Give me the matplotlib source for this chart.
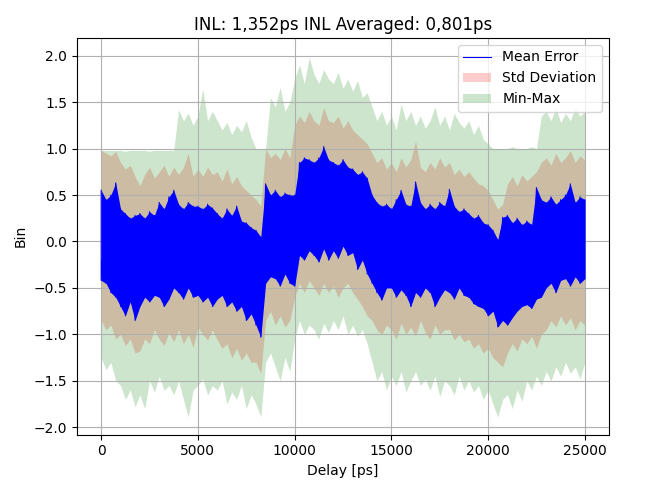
import matplotlib
matplotlib.use("Agg")
import matplotlib.pyplot as plt
import numpy as np

# mean error trace, its high and low peaks every 250 ps
mean_top = [
    0.55, 0.45, 0.50, 0.63, 0.35, 0.30, 0.25, 0.28, 0.30, 0.25, 0.32, 0.28,
    0.42, 0.35, 0.48, 0.55, 0.40, 0.35, 0.42, 0.38, 0.38, 0.35, 0.40, 0.36,
    0.30, 0.25, 0.35, 0.28, 0.38, 0.22, 0.20, 0.15, 0.12, 0.05, 0.62, 0.50,
    0.55, 0.48, 0.52, 0.50, 0.50, 0.85, 0.90, 0.88, 0.85, 0.90, 1.02, 0.88,
    0.85, 0.82, 0.88, 0.80, 0.78, 0.72, 0.75, 0.68, 0.50, 0.42, 0.38, 0.40,
    0.35, 0.45, 0.55, 0.40, 0.38, 0.64, 0.42, 0.35, 0.40, 0.35, 0.42, 0.38,
    0.56, 0.38, 0.32, 0.35, 0.30, 0.25, 0.28, 0.20, 0.18, 0.12, 0.02, 0.26,
    0.28, 0.20, 0.25, 0.18, 0.22, 0.18, 0.58, 0.45, 0.42, 0.48, 0.40, 0.45,
    0.50, 0.62, 0.42, 0.48, 0.45,
]
mean_bottom = [
    -0.42, -0.45, -0.55, -0.60, -0.70, -0.80, -0.65, -0.85, -0.70, -0.60, -0.65, -0.58,
    -0.60, -0.70, -0.62, -0.50, -0.55, -0.62, -0.50, -0.60, -0.58, -0.65, -0.60, -0.70,
    -0.62, -0.58, -0.70, -0.65, -0.75, -0.70, -0.85, -0.78, -0.90, -1.03, -0.45, -0.38,
    -0.40, -0.48, -0.35, -0.45, -0.48, -0.15, -0.20, -0.10, -0.15, -0.22, -0.08, -0.20,
    -0.10, -0.18, -0.05, -0.15, -0.12, -0.30, -0.20, -0.35, -0.45, -0.55, -0.63, -0.50,
    -0.50, -0.60, -0.52, -0.58, -0.70, -0.55, -0.60, -0.50, -0.55, -0.70, -0.60, -0.52,
    -0.55, -0.62, -0.50, -0.58, -0.60, -0.67, -0.70, -0.72, -0.80, -0.75, -0.92, -0.85,
    -0.90, -0.82, -0.75, -0.70, -0.68, -0.72, -0.62, -0.60, -0.50, -0.45, -0.55, -0.42,
    -0.40, -0.48, -0.38, -0.45, -0.40,
]

# std and min-max bands, every 250 ps
std_upper = [
    0.98, 0.95, 0.92, 0.97, 0.85, 0.78, 0.82, 0.70, 0.60, 0.72, 0.80, 0.68,
    0.75, 0.82, 0.70, 0.80, 0.72, 0.80, 0.95, 0.70, 0.78, 0.70, 0.80, 0.72,
    0.75, 0.65, 0.78, 0.62, 0.70, 0.60, 0.55, 0.50, 0.45, 0.38, 1.00, 0.90,
    0.95, 0.88, 1.00, 0.90, 1.25, 1.35, 1.28, 1.40, 1.30, 1.25, 1.44, 1.30,
    1.28, 1.35, 1.22, 1.30, 1.20, 1.15, 1.10, 1.05, 0.95, 0.85, 0.90, 0.78,
    0.85, 0.75, 0.90, 0.80, 0.88, 1.08, 0.80, 0.75, 0.85, 0.78, 0.90, 0.80,
    0.85, 0.72, 0.78, 0.70, 0.75, 0.68, 0.62, 0.60, 0.55, 0.45, 0.35, 0.40,
    0.62, 0.70, 0.60, 0.72, 0.65, 0.70, 0.75, 0.85, 0.90, 0.82, 0.95, 0.85,
    0.90, 0.98, 0.85, 0.92, 0.88,
]
std_lower = [
    -0.85, -0.95, -0.90, -1.05, -1.00, -1.12, -1.05, -1.20, -1.18, -1.05, -1.10, -0.95,
    -1.05, -1.12, -0.98, -1.08, -0.95, -1.10, -1.00, -1.14, -0.92, -1.00, -1.06, -0.95,
    -1.06, -1.15, -1.10, -1.25, -1.15, -1.28, -1.20, -1.30, -1.30, -1.42, -0.85, -0.75,
    -0.90, -0.80, -0.92, -0.85, -0.60, -0.45, -0.55, -0.42, -0.50, -0.58, -0.45, -0.55,
    -0.48, -0.60, -0.50, -0.45, -0.55, -0.62, -0.70, -0.80, -0.85, -0.95, -1.00, -0.90,
    -0.95, -1.05, -0.88, -1.00, -0.92, -1.02, -0.85, -0.98, -1.05, -0.90, -1.00, -0.95,
    -0.95, -1.06, -1.00, -1.08, -1.05, -1.15, -1.10, -1.20, -1.15, -1.25, -1.30, -1.35,
    -1.20, -1.10, -1.18, -1.05, -1.10, -1.02, -1.15, -1.00, -0.95, -0.85, -0.92, -0.80,
    -0.90, -0.82, -0.95, -0.85, -0.90,
]
max_err = [
    0.98, 0.98, 0.98, 0.98, 0.98, 0.97, 0.98, 0.98, 0.98, 0.98, 0.97, 0.98,
    0.98, 0.98, 0.98, 0.98, 1.42, 1.30, 1.38, 1.25, 1.35, 1.64, 1.30, 1.40,
    1.30, 1.20, 1.28, 1.15, 1.25, 1.18, 1.30, 1.12, 1.00, 1.00, 1.00, 1.55,
    1.45, 1.66, 1.40, 1.50, 1.75, 1.90, 1.70, 1.98, 1.80, 1.70, 1.85, 1.75,
    1.70, 1.82, 1.65, 1.75, 1.62, 1.73, 1.55, 1.60, 1.45, 1.30, 1.40, 1.25,
    1.35, 1.20, 1.48, 1.30, 1.40, 1.25, 1.35, 1.22, 1.30, 1.45, 1.25, 1.35,
    1.20, 1.38, 1.28, 1.22, 1.30, 1.15, 1.25, 1.10, 1.05, 1.00, 1.00, 1.00,
    1.00, 1.02, 1.00, 1.00, 1.00, 1.02, 1.00, 1.35, 1.40, 1.30, 1.44, 1.28,
    1.38, 1.30, 1.44, 1.35, 1.40,
]
min_err = [
    -1.25, -1.38, -1.30, -1.50, -1.55, -1.70, -1.60, -1.78, -1.65, -1.80, -1.50, -1.62,
    -1.45, -1.60, -1.55, -1.65, -1.50, -1.70, -1.89, -1.60, -1.55, -1.48, -1.65, -1.55,
    -1.60, -1.50, -1.75, -1.62, -1.70, -1.55, -1.80, -1.65, -1.75, -1.89, -1.30, -1.20,
    -1.35, -1.50, -1.25, -1.40, -1.05, -0.85, -1.00, -0.90, -0.95, -1.05, -0.88, -0.98,
    -0.85, -0.95, -0.80, -1.00, -0.90, -1.02, -0.95, -1.10, -1.30, -1.50, -1.40, -1.60,
    -1.45, -1.55, -1.40, -1.62, -1.50, -1.40, -1.55, -1.48, -1.60, -1.45, -1.67, -1.50,
    -1.55, -1.65, -1.45, -1.60, -1.50, -1.62, -1.55, -1.70, -1.60, -1.75, -1.89, -1.70,
    -1.65, -1.80, -1.60, -1.72, -1.50, -1.60, -1.45, -1.55, -1.40, -1.50, -1.35, -1.45,
    -1.30, -1.42, -1.35, -1.48, -1.30,
]

delay = np.linspace(0, 25000, len(std_upper))

fig = plt.figure(figsize=(6.65, 4.82), dpi=100)
ax = fig.add_axes([0.1158, 0.0981, 0.8, 0.8231])

std_fill = ax.fill_between(delay, std_lower, std_upper, color="red", alpha=0.2,
                           linewidth=0, label="Std Deviation")
mm_fill = ax.fill_between(delay, min_err, max_err, color="green", alpha=0.2,
                          linewidth=0, label="Min-Max")

# the trace is so dense it reads as a solid band: fill its peaks, then
# run the line itself up and down through them
ax.fill_between(delay, mean_bottom, mean_top, color="blue", linewidth=0, zorder=2)
trace_x = np.column_stack([delay, delay]).ravel()
trace_y = np.column_stack([mean_top, mean_bottom]).ravel()
mean_line, = ax.plot(trace_x, trace_y, color="blue", lw=0.8, label="Mean Error")

ax.set_xlim(-1250, 26250)
ax.set_ylim(-2.08, 2.19)
ax.grid(True)
ax.set_title("INL: 1,352ps INL Averaged: 0,801ps")
ax.set_xlabel("Delay [ps]")
ax.set_ylabel("Bin")
ax.legend(handles=[mean_line, std_fill, mm_fill], loc="upper right")

fig.savefig("out.png", dpi=100)
